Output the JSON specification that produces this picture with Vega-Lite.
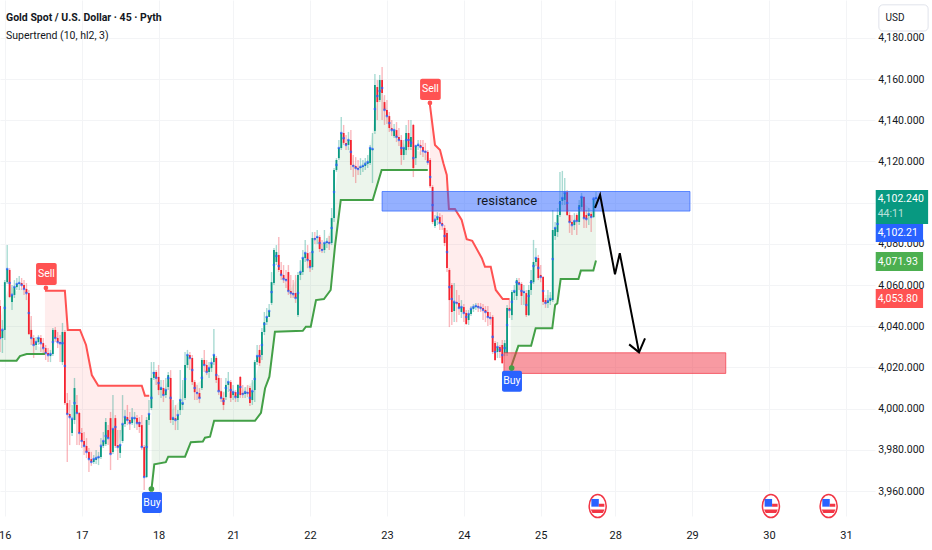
{"$schema":"https://vega.github.io/schema/vega-lite/v6.json","width":875,"height":516,"autosize":{"type":"none"},"padding":{"left":0,"top":0,"right":57,"bottom":34},"background":"#ffffff","config":{"view":{"stroke":null},"font":"Roboto","text":{"font":"Roboto"},"axis":{"labelFont":"Roboto"}},
"datasets":{
"bars":[
{"i":0,"o":4049.8,"h":4052.7,"l":4027.5,"c":4034.3},{"i":1,"o":4034.3,"h":4043,"l":4027,"c":4038.2},{"i":2,"o":4038.2,"h":4062.4,"l":4033.3,"c":4061.4,"d":4048.9},{"i":3,"o":4061.4,"h":4079.4,"l":4060.5,"c":4067.8},{"i":4,"o":4067.3,"h":4068.2,"l":4053.7,"c":4054.2,"d":4061},{"i":5,"o":4051.8,"h":4060,"l":4047.9,"c":4055.2},{"i":6,"o":4055.2,"h":4062.4,"l":4053.7,"c":4059},{"i":7,"o":4059,"h":4063.4,"l":4057.6,"c":4060.5},{"i":8,"o":4060.5,"h":4064.4,"l":4057.6,"c":4061},{"i":9,"o":4061,"h":4063.4,"l":4057.6,"c":4060},{"i":10,"o":4060,"h":4062.4,"l":4055.2,"c":4058.1},{"i":11,"o":4058.1,"h":4061,"l":4052.7,"c":4056.1},{"i":12,"o":4056.1,"h":4057.6,"l":4035.7,"c":4036.2,"d":4046.4},{"i":13,"o":4038.2,"h":4045,"l":4030.9,"c":4034.3},{"i":14,"o":4034.3,"h":4035.7,"l":4024.6,"c":4030.9},{"i":15,"o":4030.9,"h":4034.8,"l":4028.5,"c":4032.3},{"i":16,"o":4032.3,"h":4035.7,"l":4030.9,"c":4034.3},{"i":17,"o":4034.3,"h":4035.7,"l":4027.5,"c":4031.8},{"i":18,"o":4031.8,"h":4034.3,"l":4026,"c":4029.4},{"i":19,"o":4029.4,"h":4030.9,"l":4023.6,"c":4027},
{"i":20,"o":4027,"h":4029.4,"l":4022.6,"c":4026},{"i":21,"o":4025.5,"h":4028.5,"l":4022.6,"c":4026.5},{"i":22,"o":4026.5,"h":4039.2,"l":4025.5,"c":4038.2,"d":4032.3},{"i":23,"o":4038.2,"h":4039.6,"l":4032.3,"c":4034.3},{"i":24,"o":4034.3,"h":4037.2,"l":4029.4,"c":4032.3},{"i":25,"o":4032.3,"h":4035.7,"l":4022.6,"c":4031.8},{"i":26,"o":4022.6,"h":4041.6,"l":4021.2,"c":4037.2,"d":4031.8},{"i":27,"o":4037.2,"h":4038.2,"l":4001.8,"c":4002.7,"d":4020.7},{"i":28,"o":4002.7,"h":4007.6,"l":3974.1,"c":3997.4},{"i":29,"o":3997.4,"h":4004.2,"l":3982.3,"c":3995.9},{"i":30,"o":3988.2,"h":4001.8,"l":3986.7,"c":3995},{"i":31,"o":3994.5,"h":4014.9,"l":3992.5,"c":4010,"d":4002.7},{"i":32,"o":4001.8,"h":4006.6,"l":3982.3,"c":3997.9},{"i":33,"o":3997.9,"h":3998.4,"l":3982.3,"c":3988.2},{"i":34,"o":3988.2,"h":3990.6,"l":3980.9,"c":3984.3},{"i":35,"o":3984.3,"h":3988.7,"l":3977.5,"c":3981.9},{"i":36,"o":3981.9,"h":3985.7,"l":3976,"c":3979},{"i":37,"o":3979,"h":3980.9,"l":3969.2,"c":3975.5},{"i":38,"o":3975.5,"h":3979,"l":3972.2,"c":3974.1},{"i":39,"o":3974.1,"h":3977.5,"l":3973.1,"c":3975.5},
{"i":40,"o":3975.1,"h":3979.9,"l":3973.1,"c":3976},{"i":41,"o":3976,"h":3979,"l":3972.6,"c":3976.5},{"i":42,"o":3976.5,"h":3985.7,"l":3975.5,"c":3981.9},{"i":43,"o":3981.9,"h":3988.7,"l":3980.9,"c":3984.3},{"i":44,"o":3982.8,"h":3995.4,"l":3981.9,"c":3993.5,"d":3986.7},{"i":45,"o":3989.6,"h":3992,"l":3982.3,"c":3985.7},{"i":46,"o":3995.4,"h":3998.4,"l":3970.2,"c":3978},{"i":47,"o":3979,"h":4006.6,"l":3978,"c":3990.1},{"i":48,"o":3995.4,"h":3996.9,"l":3980.9,"c":3981.9,"d":3991.1},{"i":49,"o":3982.3,"h":3989.6,"l":3975.1,"c":3981.4},{"i":50,"o":3978.5,"h":3989.6,"l":3976,"c":3982.3},{"i":51,"o":3984.3,"h":4006.6,"l":3983.3,"c":3992.5},{"i":52,"o":3992.5,"h":3999.3,"l":3991.1,"c":3995.9},{"i":53,"o":3995.9,"h":4001.8,"l":3992,"c":3994.5},{"i":54,"o":3994.5,"h":3998.4,"l":3989.6,"c":3993},{"i":55,"o":3993,"h":4000.3,"l":3992,"c":3995.4},{"i":56,"o":3995,"h":3998.4,"l":3990.6,"c":3995.4},{"i":57,"o":3995.4,"h":3996.9,"l":3989.6,"c":3993},{"i":58,"o":3993.5,"h":3995.9,"l":3988.2,"c":3991.1,"d":3993},{"i":59,"o":3992,"h":3996.9,"l":3979.9,"c":3981.4},
{"i":60,"o":3981.4,"h":3982.3,"l":3960.5,"c":3966.8},{"i":61,"o":3966.8,"h":3995.9,"l":3966.3,"c":3994.5,"d":3981.4},{"i":62,"o":3994.5,"h":4004.2,"l":3992,"c":3997.4},{"i":63,"o":4000.3,"h":4022.6,"l":3999.3,"c":4014.9,"d":4005.2},{"i":64,"o":4014.9,"h":4022.6,"l":4013.9,"c":4017.8,"d":4017.3},{"i":65,"o":4017.8,"h":4018.7,"l":4011.5,"c":4014.9},{"i":66,"o":4015.4,"h":4021.2,"l":4006.6,"c":4009,"d":4012.4},{"i":67,"o":4009,"h":4013.9,"l":4005.2,"c":4010},{"i":68,"o":4010,"h":4013.9,"l":4003.2,"c":4006.6},{"i":69,"o":4006.6,"h":4014.9,"l":4005.2,"c":4009},{"i":70,"o":4010.5,"h":4017.8,"l":4009,"c":4016.3,"d":4014.9},{"i":71,"o":4014.9,"h":4018.7,"l":3993,"c":3994.5,"d":4005.2},{"i":72,"o":3994.5,"h":4004.2,"l":3992,"c":3995.4},{"i":73,"o":3995.4,"h":4001.8,"l":3989.6,"c":3994.5},{"i":74,"o":3994.5,"h":3999.3,"l":3989.6,"c":3996.9},{"i":75,"o":3999.3,"h":4018.7,"l":3996.9,"c":4004.2},{"i":76,"o":4001.8,"h":4013.9,"l":3999.3,"c":4002.7},{"i":77,"o":4005.2,"h":4027.5,"l":4004.2,"c":4021.2,"d":4014.4},{"i":78,"o":4021.2,"h":4028.5,"l":4019.7,"c":4026},{"i":79,"o":4026,"h":4027.5,"l":4018.7,"c":4024.6},
{"i":80,"o":4024.6,"h":4026,"l":4011.5,"c":4012.9,"d":4018.7},{"i":81,"o":4012.9,"h":4013.9,"l":4004.2,"c":4008,"d":4010},{"i":82,"o":4008,"h":4011.5,"l":4004.2,"c":4007.6},{"i":83,"o":4007.6,"h":4010,"l":4002.7,"c":4005.2},{"i":84,"o":4010,"h":4024.6,"l":4009,"c":4023.6,"d":4014.9},{"i":85,"o":4023.6,"h":4028.5,"l":4017.8,"c":4021.2},{"i":86,"o":4021.2,"h":4023.6,"l":4016.3,"c":4017.8},{"i":87,"o":4017.8,"h":4022.6,"l":4014.9,"c":4019.7},{"i":88,"o":4019.7,"h":4024.6,"l":4017.8,"c":4022.1},{"i":89,"o":4022.6,"h":4038.6,"l":4021.2,"c":4026},{"i":90,"o":4024.6,"h":4025.5,"l":4012.4,"c":4013.9,"d":4016.3},{"i":91,"o":4014.9,"h":4016.3,"l":4006.6,"c":4008.5},{"i":92,"o":4008.5,"h":4014.9,"l":4003.2,"c":4005.2},{"i":93,"o":4005.2,"h":4008,"l":3999.3,"c":4001.8,"d":4003.7},{"i":94,"o":4005.6,"h":4014.9,"l":4004.2,"c":4011.5,"d":4010},{"i":95,"o":4011.5,"h":4017.8,"l":4008,"c":4012.9},{"i":96,"o":4012.9,"h":4013.9,"l":4003.2,"c":4005.2,"d":4009},{"i":97,"o":4006.6,"h":4011.5,"l":4004.2,"c":4008},{"i":98,"o":4008,"h":4009,"l":4003.2,"c":4005.6},{"i":99,"o":4005.2,"h":4012,"l":4003.2,"c":4011.5,"d":4007.6},
{"i":100,"o":4015.4,"h":4015.8,"l":4005.2,"c":4006.6,"d":4010.5},{"i":101,"o":4007.6,"h":4011.5,"l":4005.2,"c":4007.1},{"i":102,"o":4007.1,"h":4010.5,"l":4005.2,"c":4008},{"i":103,"o":4008,"h":4011.5,"l":4005.6,"c":4007.6},{"i":104,"o":4010,"h":4011,"l":4001.3,"c":4002.7,"d":4005.2},{"i":105,"o":4004.2,"h":4013.9,"l":4001.8,"c":4008.5},{"i":106,"o":4009,"h":4023.6,"l":4003.2,"c":4022.6,"d":4014.4},{"i":107,"o":4022.6,"h":4030.9,"l":4021.2,"c":4025.5},{"i":108,"o":4028.5,"h":4030.9,"l":4020.7,"c":4022.1,"d":4025.5},{"i":109,"o":4026,"h":4039.2,"l":4023.6,"c":4037.2,"d":4030.9},{"i":110,"o":4037.2,"h":4046.9,"l":4035.7,"c":4042,"d":4041.1},{"i":111,"o":4042,"h":4048.9,"l":4040.6,"c":4044.5},{"i":112,"o":4044.5,"h":4050.8,"l":4045,"c":4047.4},{"i":113,"o":4051.3,"h":4066.3,"l":4050.3,"c":4061.4,"d":4056.6},{"i":114,"o":4061,"h":4078,"l":4060,"c":4077,"d":4069.7},{"i":115,"o":4071.2,"h":4079.4,"l":4069.7,"c":4076,"d":4074.1},{"i":116,"o":4074.6,"h":4083.3,"l":4066.3,"c":4067.3,"d":4069.2},{"i":117,"o":4067.3,"h":4071.2,"l":4062.4,"c":4064.9},{"i":118,"o":4064.9,"h":4069.7,"l":4061,"c":4062.9},{"i":119,"o":4062.9,"h":4067.3,"l":4058.6,"c":4062.4},
{"i":120,"o":4066.3,"h":4069.7,"l":4055.2,"c":4057.1},{"i":121,"o":4057.1,"h":4064.9,"l":4053.7,"c":4056.1},{"i":122,"o":4056.1,"h":4062.4,"l":4053.7,"c":4055.6},{"i":123,"o":4056.1,"h":4064.9,"l":4051.3,"c":4053.7},{"i":124,"o":4045.4,"h":4066.3,"l":4044.5,"c":4064.9,"d":4056.1},{"i":125,"o":4064.9,"h":4072.1,"l":4062.4,"c":4066.3},{"i":126,"o":4066.3,"h":4077,"l":4064.9,"c":4073.1},{"i":127,"o":4073.1,"h":4081.9,"l":4071.2,"c":4075.5},{"i":128,"o":4075.5,"h":4079.4,"l":4068.2,"c":4072.1},{"i":129,"o":4072.1,"h":4076,"l":4066.3,"c":4068.7},{"i":130,"o":4068.7,"h":4085.7,"l":4067.3,"c":4082.8,"d":4076},{"i":131,"o":4082.8,"h":4085.7,"l":4079.9,"c":4082.3},{"i":132,"o":4082.8,"h":4086.7,"l":4079.9,"c":4083.3},{"i":133,"o":4083.3,"h":4084.3,"l":4076,"c":4077.5,"d":4080.4},{"i":134,"o":4077.5,"h":4081.9,"l":4075.5,"c":4077},{"i":135,"o":4077,"h":4086.7,"l":4075.5,"c":4080.4},{"i":136,"o":4080.4,"h":4082.8,"l":4078,"c":4080.9},{"i":137,"o":4080.9,"h":4083.8,"l":4077,"c":4080.4},{"i":138,"o":4080.4,"h":4097.4,"l":4079.4,"c":4092.5,"d":4087.7},{"i":139,"o":4092.5,"h":4116.8,"l":4090.6,"c":4115.8,"d":4105.1},
{"i":140,"o":4115.8,"h":4121.6,"l":4114.9,"c":4120.7,"d":4118.3},{"i":141,"o":4121.6,"h":4130.4,"l":4120.7,"c":4126.5},{"i":142,"o":4126.5,"h":4141.6,"l":4125.5,"c":4133.8},{"i":143,"o":4133.8,"h":4137.7,"l":4128,"c":4129,"d":4131.3},{"i":144,"o":4129,"h":4132.8,"l":4125.5,"c":4128},{"i":145,"o":4128,"h":4134.3,"l":4125.5,"c":4130.4},{"i":146,"o":4130.4,"h":4135.2,"l":4115.8,"c":4118.3,"d":4124.6},{"i":147,"o":4118.3,"h":4123.1,"l":4112.4,"c":4117.8},{"i":148,"o":4117.8,"h":4122.1,"l":4109.5,"c":4116.8},{"i":149,"o":4116.8,"h":4120.7,"l":4113.4,"c":4116.3},{"i":150,"o":4116.8,"h":4121.6,"l":4113.4,"c":4117.3},{"i":151,"o":4117.3,"h":4120.7,"l":4114.9,"c":4117.8},{"i":152,"o":4117.8,"h":4121.6,"l":4115.8,"c":4118.8},{"i":153,"o":4118.8,"h":4123.1,"l":4116.8,"c":4119.7},{"i":154,"o":4119.2,"h":4128,"l":4118.3,"c":4126.5},{"i":155,"o":4125.5,"h":4133.8,"l":4109.5,"c":4126},{"i":156,"o":4134.8,"h":4162.4,"l":4133.3,"c":4157.1,"d":4145.4},{"i":157,"o":4156.1,"h":4159.5,"l":4140.1,"c":4148.8,"d":4151.7},{"i":158,"o":4149.8,"h":4162,"l":4148.8,"c":4159.5,"d":4154.2},{"i":159,"o":4159.5,"h":4165.8,"l":4140.1,"c":4153.2,"d":4155.6},
{"i":160,"o":4148.8,"h":4152.2,"l":4137.7,"c":4145},{"i":161,"o":4145,"h":4149.8,"l":4138.2,"c":4142},{"i":162,"o":4142,"h":4144,"l":4134.3,"c":4136.2,"d":4138.6},{"i":163,"o":4136.2,"h":4140.1,"l":4132.3,"c":4135.2},{"i":164,"o":4132.3,"h":4138.2,"l":4131.4,"c":4135.2},{"i":165,"o":4135.2,"h":4139.1,"l":4129.4,"c":4131.9},{"i":166,"o":4131.9,"h":4136.2,"l":4127.5,"c":4130.4},{"i":167,"o":4130.4,"h":4132.8,"l":4118.3,"c":4123.1,"d":4126.5},{"i":168,"o":4123.1,"h":4130.4,"l":4120.7,"c":4126.5},{"i":169,"o":4125.5,"h":4137.7,"l":4123.1,"c":4133.8,"d":4130.4},{"i":170,"o":4133.8,"h":4140.1,"l":4125.5,"c":4127,"d":4130.4},{"i":171,"o":4127,"h":4140.1,"l":4125.5,"c":4131.9,"d":4129},{"i":172,"o":4137.7,"h":4138.2,"l":4112.4,"c":4116.8,"d":4121.6},{"i":173,"o":4121.6,"h":4128,"l":4118.3,"c":4127.5},{"i":174,"o":4127.5,"h":4130.4,"l":4125.5,"c":4128},{"i":175,"o":4128,"h":4130.4,"l":4123.1,"c":4127},{"i":176,"o":4127,"h":4130.4,"l":4122.1,"c":4125},{"i":177,"o":4125,"h":4129,"l":4120.7,"c":4124.6},{"i":178,"o":4124.6,"h":4125.5,"l":4118.3,"c":4119.7},{"i":179,"o":4120.7,"h":4121.6,"l":4107.1,"c":4108,"d":4112.4},
{"i":180,"o":4107.6,"h":4108.5,"l":4089.6,"c":4090.6,"d":4098.8},{"i":181,"o":4088.6,"h":4094,"l":4087.7,"c":4091.6},{"i":182,"o":4091.6,"h":4095.4,"l":4089.1,"c":4093},{"i":183,"o":4093,"h":4094.9,"l":4086.7,"c":4090.1},{"i":184,"o":4090.1,"h":4094,"l":4086.7,"c":4089.1},{"i":185,"o":4087.7,"h":4089.1,"l":4078.9,"c":4080.4,"d":4083.8},{"i":186,"o":4085.3,"h":4086.7,"l":4066.3,"c":4068.3,"d":4076},{"i":187,"o":4067.3,"h":4068.2,"l":4039.6,"c":4052.7,"d":4059},{"i":188,"o":4060,"h":4061,"l":4040.6,"c":4046.9,"d":4053.2},{"i":189,"o":4047.4,"h":4061,"l":4042,"c":4051.8},{"i":190,"o":4051.8,"h":4057.6,"l":4042,"c":4051.3},{"i":191,"o":4051.3,"h":4055.2,"l":4045.4,"c":4048.9},{"i":192,"o":4046.9,"h":4052.7,"l":4044,"c":4049.3},{"i":193,"o":4049.3,"h":4050.8,"l":4042,"c":4046.4},{"i":194,"o":4046.4,"h":4047.9,"l":4040.6,"c":4041.1,"d":4044.5},{"i":195,"o":4043,"h":4047.9,"l":4040.6,"c":4045.9},{"i":196,"o":4045.9,"h":4049.8,"l":4045,"c":4048.4},{"i":197,"o":4048.4,"h":4050.8,"l":4046.9,"c":4049.3},{"i":198,"o":4049.3,"h":4051.3,"l":4047.9,"c":4049.8},{"i":199,"o":4049.8,"h":4051.3,"l":4046.9,"c":4049.3},
{"i":200,"o":4049.3,"h":4051.3,"l":4046.9,"c":4048.9},{"i":201,"o":4048.9,"h":4050.8,"l":4043,"c":4047.9},{"i":202,"o":4047.9,"h":4049.8,"l":4042,"c":4046.9},{"i":203,"o":4046.9,"h":4049.8,"l":4040.1,"c":4044.5},{"i":204,"o":4044.5,"h":4046.9,"l":4040.6,"c":4044},{"i":205,"o":4044.5,"h":4045.4,"l":4026.5,"c":4027.5,"d":4034.8},{"i":206,"o":4031.9,"h":4032.8,"l":4023.1,"c":4023.6,"d":4027.5},{"i":207,"o":4027.5,"h":4032.3,"l":4024.6,"c":4029.9},{"i":208,"o":4029.9,"h":4030.9,"l":4024.6,"c":4027.5,"d":4028.5},{"i":209,"o":4030.9,"h":4033.3,"l":4021.7,"c":4022.1,"d":4026},{"i":210,"o":4027,"h":4033.3,"l":4025.5,"c":4031.8,"d":4029.4},{"i":211,"o":4027,"h":4050.3,"l":4025.5,"c":4048.9,"d":4040.6},{"i":212,"o":4048.9,"h":4053.7,"l":4044,"c":4047.9},{"i":213,"o":4045.4,"h":4057.6,"l":4043,"c":4056.6,"d":4051.8},{"i":214,"o":4056.1,"h":4060,"l":4052.7,"c":4057.1},{"i":215,"o":4054.7,"h":4063.4,"l":4052.7,"c":4062.4,"d":4061.4},{"i":216,"o":4061.4,"h":4063.4,"l":4057.6,"c":4060.5},{"i":217,"o":4060.5,"h":4061.4,"l":4050.3,"c":4054.7,"d":4057.1},{"i":218,"o":4056.1,"h":4060,"l":4050.3,"c":4056.6},{"i":219,"o":4056.1,"h":4057.6,"l":4044.5,"c":4045.4,"d":4050.3},
{"i":220,"o":4045.4,"h":4060,"l":4045,"c":4057.6,"d":4054.7},{"i":221,"o":4057.6,"h":4067.3,"l":4055.2,"c":4062.4,"d":4061.4},{"i":222,"o":4061.4,"h":4081.9,"l":4060.5,"c":4071.2,"d":4069.2},{"i":223,"o":4071.2,"h":4078,"l":4069.2,"c":4073.1},{"i":224,"o":4073.1,"h":4074.6,"l":4062.4,"c":4063.4,"d":4068.3},{"i":225,"o":4064.9,"h":4069.7,"l":4061.4,"c":4063.9},{"i":226,"o":4063.9,"h":4064.4,"l":4050.3,"c":4051.8,"d":4057.1},{"i":227,"o":4052.7,"h":4053.7,"l":4048.9,"c":4051.3},{"i":228,"o":4051.3,"h":4057.6,"l":4048.9,"c":4052.2},{"i":229,"o":4052.2,"h":4056.6,"l":4050.3,"c":4053.2},{"i":230,"o":4052.7,"h":4096.4,"l":4051.8,"c":4086.7,"d":4072.6},{"i":231,"o":4083.8,"h":4090.6,"l":4081.9,"c":4087.7},{"i":232,"o":4085.7,"h":4097.4,"l":4083.3,"c":4094,"d":4089.6},{"i":233,"o":4094,"h":4114.9,"l":4093,"c":4100.8,"d":4099.8},{"i":234,"o":4100.8,"h":4115.4,"l":4098.8,"c":4102.2},{"i":235,"o":4101.3,"h":4112,"l":4098.8,"c":4104.7},{"i":236,"o":4105.1,"h":4106.1,"l":4093.5,"c":4094,"d":4099.8},{"i":237,"o":4094,"h":4095.4,"l":4085.3,"c":4090.6},{"i":238,"o":4090.6,"h":4094,"l":4084.3,"c":4089.1},{"i":239,"o":4089.1,"h":4094.9,"l":4086.7,"c":4091.1},
{"i":240,"o":4094,"h":4094.9,"l":4084.3,"c":4091.1},{"i":241,"o":4090.6,"h":4101.3,"l":4089.1,"c":4098.8,"d":4097.4},{"i":242,"o":4097.9,"h":4104.7,"l":4096.4,"c":4102.7},{"i":243,"o":4102.7,"h":4103.2,"l":4087.7,"c":4092.5},{"i":244,"o":4094,"h":4096.4,"l":4087.7,"c":4092},{"i":245,"o":4093.5,"h":4097.4,"l":4089.1,"c":4094.5},{"i":246,"o":4094.5,"h":4095.4,"l":4085.7,"c":4093},{"i":247,"o":4093,"h":4102.7,"l":4092.5,"c":4101.8},{"i":248,"o":4101.8,"h":4105.2,"l":4098.8,"c":4102.24}],
"st":[
{"s":"g1","k":"g","i":0,"v":4023.3},{"s":"g1","k":"g","i":6.9,"v":4023.3},{"s":"g1","k":"g","i":8.3,"v":4025.5},{"s":"g1","k":"g","i":11.1,"v":4026.5},{"s":"g1","k":"g","i":18.7,"v":4026.5},
{"s":"r1","k":"r","i":18.7,"v":4057.2},{"s":"r1","k":"r","i":27,"v":4057.2},{"s":"r1","k":"r","i":28.2,"v":4038.2},{"s":"r1","k":"r","i":33.3,"v":4038.2},{"s":"r1","k":"r","i":35.8,"v":4030.9},{"s":"r1","k":"r","i":38.2,"v":4016.3},{"s":"r1","k":"r","i":40.9,"v":4011.1},{"s":"r1","k":"r","i":59,"v":4011.1},{"s":"r1","k":"r","i":60.3,"v":4006.3},{"s":"r1","k":"r","i":62.1,"v":4006.3},
{"s":"g2","k":"g","i":63.1,"v":3961.5},{"s":"g2","k":"g","i":64.2,"v":3973},{"s":"g2","k":"g","i":69,"v":3974},{"s":"g2","k":"g","i":70,"v":3976.7},{"s":"g2","k":"g","i":77,"v":3976.7},{"s":"g2","k":"g","i":79.4,"v":3983.7},{"s":"g2","k":"g","i":84.4,"v":3984},{"s":"g2","k":"g","i":85.3,"v":3985.9},{"s":"g2","k":"g","i":87.4,"v":3986.4},{"s":"g2","k":"g","i":89.1,"v":3994.1},{"s":"g2","k":"g","i":106.1,"v":3994.1},{"s":"g2","k":"g","i":108.6,"v":3998},{"s":"g2","k":"g","i":110.3,"v":4009.9},{"s":"g2","k":"g","i":112.1,"v":4015.5},{"s":"g2","k":"g","i":114.4,"v":4037.3},{"s":"g2","k":"g","i":126,"v":4037.8},{"s":"g2","k":"g","i":127.3,"v":4039.8},{"s":"g2","k":"g","i":129.3,"v":4039.8},{"s":"g2","k":"g","i":131.5,"v":4052.7},{"s":"g2","k":"g","i":134.8,"v":4053.2},{"s":"g2","k":"g","i":137.6,"v":4057.6},{"s":"g2","k":"g","i":139.4,"v":4078.9},{"s":"g2","k":"g","i":141.8,"v":4101.3},{"s":"g2","k":"g","i":155.1,"v":4101.3},{"s":"g2","k":"g","i":158.8,"v":4115.8},{"s":"g2","k":"g","i":178,"v":4115.8},
{"s":"r2","k":"r","i":178.9,"v":4147.4},{"s":"r2","k":"r","i":181,"v":4128},{"s":"r2","k":"r","i":183.1,"v":4125.5},{"s":"r2","k":"r","i":184.5,"v":4119.1},{"s":"r2","k":"r","i":185.9,"v":4113.4},{"s":"r2","k":"r","i":186.8,"v":4096.9},{"s":"r2","k":"r","i":189.3,"v":4096.9},{"s":"r2","k":"r","i":192.1,"v":4091.6},{"s":"r2","k":"r","i":194.2,"v":4082.2},{"s":"r2","k":"r","i":196.5,"v":4081.5},{"s":"r2","k":"r","i":200.5,"v":4073},{"s":"r2","k":"r","i":201.8,"v":4068.9},{"s":"r2","k":"r","i":204.2,"v":4068.9},{"s":"r2","k":"r","i":206.3,"v":4057.6},{"s":"r2","k":"r","i":209.2,"v":4053.2},{"s":"r2","k":"r","i":211.9,"v":4053.2},
{"s":"g3","k":"g","i":212.5,"v":4019.7},{"s":"g3","k":"g","i":215.7,"v":4030.5},{"s":"g3","k":"g","i":221,"v":4030.5},{"s":"g3","k":"g","i":222.9,"v":4039},{"s":"g3","k":"g","i":229.8,"v":4039},{"s":"g3","k":"g","i":231,"v":4050.3},{"s":"g3","k":"g","i":231.9,"v":4051.1},{"s":"g3","k":"g","i":233.3,"v":4062.9},{"s":"g3","k":"g","i":240.7,"v":4062.9},{"s":"g3","k":"g","i":241.7,"v":4067},{"s":"g3","k":"g","i":246.9,"v":4067},{"s":"g3","k":"g","i":248,"v":4071.9}],
"fills":[
{"s":"g1","k":"g","i":0,"v":4023.3,"m":4043},{"s":"g1","k":"g","i":2,"v":4023.3,"m":4052.7},{"s":"g1","k":"g","i":4,"v":4023.3,"m":4060},{"s":"g1","k":"g","i":6.9,"v":4023.3,"m":4057},{"s":"g1","k":"g","i":8.3,"v":4025.5,"m":4058.5},{"s":"g1","k":"g","i":11.1,"v":4026.5,"m":4056.6},{"s":"g1","k":"g","i":12.5,"v":4026.5,"m":4045.4},{"s":"g1","k":"g","i":13.5,"v":4026.5,"m":4035.7},{"s":"g1","k":"g","i":15,"v":4026.5,"m":4030.9},{"s":"g1","k":"g","i":18.7,"v":4026.5,"m":4028.5},
{"s":"r1","k":"r","i":18.7,"v":4057.2,"m":4026},{"s":"r1","k":"r","i":21.6,"v":4057.2,"m":4026},{"s":"r1","k":"r","i":23,"v":4057.2,"m":4033.3},{"s":"r1","k":"r","i":25.8,"v":4057.2,"m":4032.3},{"s":"r1","k":"r","i":27,"v":4057.2,"m":4018.7},{"s":"r1","k":"r","i":28.2,"v":4038.2,"m":3998.4},{"s":"r1","k":"r","i":31,"v":4038.2,"m":4004.2},{"s":"r1","k":"r","i":33.3,"v":4038.2,"m":3989.6},{"s":"r1","k":"r","i":35.8,"v":4030.9,"m":3980},{"s":"r1","k":"r","i":37.5,"v":4019,"m":3976},{"s":"r1","k":"r","i":38.2,"v":4016.3,"m":3975.5},{"s":"r1","k":"r","i":40.9,"v":4011.1,"m":3975},{"s":"r1","k":"r","i":43.7,"v":4011.1,"m":3984.8},{"s":"r1","k":"r","i":47,"v":4011.1,"m":3988.7},{"s":"r1","k":"r","i":49,"v":4011.1,"m":3982.3},{"s":"r1","k":"r","i":52,"v":4011.1,"m":3994.5},{"s":"r1","k":"r","i":59,"v":4011.1,"m":3993},{"s":"r1","k":"r","i":60.3,"v":4006.3,"m":3974},{"s":"r1","k":"r","i":62.1,"v":4006.3,"m":3982.3},
{"s":"g2","k":"g","i":63.1,"v":3961.5,"m":4004.2},{"s":"g2","k":"g","i":64.2,"v":3973,"m":4016.3},{"s":"g2","k":"g","i":67.8,"v":3973.6,"m":4008},{"s":"g2","k":"g","i":69,"v":3974,"m":4011.5},{"s":"g2","k":"g","i":70,"v":3976.7,"m":4013.9},{"s":"g2","k":"g","i":71.6,"v":3976.7,"m":3999.3},{"s":"g2","k":"g","i":75,"v":3976.7,"m":4004.2},{"s":"g2","k":"g","i":77,"v":3976.7,"m":4018.7},{"s":"g2","k":"g","i":78,"v":3979.5,"m":4023.6},{"s":"g2","k":"g","i":79.4,"v":3983.7,"m":4018.7},{"s":"g2","k":"g","i":81,"v":3983.7,"m":4011.5},{"s":"g2","k":"g","i":84.1,"v":3984,"m":4013.9},{"s":"g2","k":"g","i":85.3,"v":3985.9,"m":4018.7},{"s":"g2","k":"g","i":87.4,"v":3986.4,"m":4019.7},{"s":"g2","k":"g","i":89.1,"v":3994.1,"m":4023.6},{"s":"g2","k":"g","i":91.5,"v":3994.1,"m":4009},{"s":"g2","k":"g","i":98.2,"v":3994.1,"m":4006.6},{"s":"g2","k":"g","i":106.1,"v":3994.1,"m":4013.9},{"s":"g2","k":"g","i":108.6,"v":3998,"m":4026},{"s":"g2","k":"g","i":110.3,"v":4009.9,"m":4038.2},{"s":"g2","k":"g","i":112.1,"v":4015.5,"m":4045.4},{"s":"g2","k":"g","i":114.4,"v":4037.3,"m":4069.7},{"s":"g2","k":"g","i":120.7,"v":4037.5,"m":4057.6},{"s":"g2","k":"g","i":124.8,"v":4037.7,"m":4066.3},{"s":"g2","k":"g","i":126,"v":4037.8,"m":4072.1},{"s":"g2","k":"g","i":127.3,"v":4039.8,"m":4074.6},{"s":"g2","k":"g","i":129.3,"v":4039.8,"m":4069.7},{"s":"g2","k":"g","i":131.5,"v":4052.7,"m":4082.8},{"s":"g2","k":"g","i":134.8,"v":4053.2,"m":4079.4},{"s":"g2","k":"g","i":137.6,"v":4057.6,"m":4086.7},{"s":"g2","k":"g","i":139.4,"v":4078.9,"m":4103.7},{"s":"g2","k":"g","i":141.8,"v":4101.3,"m":4130.4},{"s":"g2","k":"g","i":145.6,"v":4101.3,"m":4126.5},{"s":"g2","k":"g","i":148,"v":4101.3,"m":4116.8},{"s":"g2","k":"g","i":153,"v":4101.3,"m":4120.7},{"s":"g2","k":"g","i":155.1,"v":4101.3,"m":4135.2},{"s":"g2","k":"g","i":156,"v":4105,"m":4145},{"s":"g2","k":"g","i":158.8,"v":4115.8,"m":4154.7},{"s":"g2","k":"g","i":163.1,"v":4115.8,"m":4135.2},{"s":"g2","k":"g","i":168.5,"v":4115.8,"m":4128},{"s":"g2","k":"g","i":172.7,"v":4115.8,"m":4125.5},{"s":"g2","k":"g","i":178,"v":4115.8,"m":4123.1},
{"s":"r2","k":"r","i":178.9,"v":4147.4,"m":4113.4},{"s":"r2","k":"r","i":180,"v":4137,"m":4098.8},{"s":"r2","k":"r","i":181,"v":4128,"m":4094},{"s":"r2","k":"r","i":183.1,"v":4125.5,"m":4091.6},{"s":"r2","k":"r","i":185.2,"v":4116,"m":4083.8},{"s":"r2","k":"r","i":186.8,"v":4096.9,"m":4060},{"s":"r2","k":"r","i":189.3,"v":4096.9,"m":4051.8},{"s":"r2","k":"r","i":192.1,"v":4091.6,"m":4047.9},{"s":"r2","k":"r","i":194.2,"v":4082.2,"m":4044.5},{"s":"r2","k":"r","i":196.5,"v":4081.5,"m":4048.9},{"s":"r2","k":"r","i":200.5,"v":4073,"m":4048.9},{"s":"r2","k":"r","i":201.8,"v":4068.9,"m":4046.9},{"s":"r2","k":"r","i":204.2,"v":4068.9,"m":4044.5},{"s":"r2","k":"r","i":206.3,"v":4057.6,"m":4028.5},{"s":"r2","k":"r","i":209.2,"v":4053.2,"m":4028.5},{"s":"r2","k":"r","i":210.5,"v":4053.2,"m":4030.9},{"s":"r2","k":"r","i":211.9,"v":4053.2,"m":4047.9},
{"s":"g3","k":"g","i":212.5,"v":4019.7,"m":4050.3},{"s":"g3","k":"g","i":215.7,"v":4030.5,"m":4060},{"s":"g3","k":"g","i":219.3,"v":4030.5,"m":4052.7},{"s":"g3","k":"g","i":221,"v":4030.5,"m":4060},{"s":"g3","k":"g","i":222.9,"v":4039,"m":4073.1},{"s":"g3","k":"g","i":226.5,"v":4039,"m":4055.2},{"s":"g3","k":"g","i":229.8,"v":4039,"m":4055.2},{"s":"g3","k":"g","i":231,"v":4050.3,"m":4086.7},{"s":"g3","k":"g","i":231.9,"v":4051.1,"m":4089.1},{"s":"g3","k":"g","i":233.3,"v":4062.9,"m":4098.8},{"s":"g3","k":"g","i":235,"v":4062.9,"m":4103.7},{"s":"g3","k":"g","i":238,"v":4062.9,"m":4090.6},{"s":"g3","k":"g","i":240.7,"v":4062.9,"m":4094},{"s":"g3","k":"g","i":241.7,"v":4067,"m":4101.3},{"s":"g3","k":"g","i":246.9,"v":4067,"m":4095.4},{"s":"g3","k":"g","i":248,"v":4071.9,"m":4101.8}],
"flags":[{"i":248.7,"p":3952.7},{"i":320.8,"p":3952.7},{"i":344.8,"p":3952.7}]
},
"encoding":{"x":{"field":"i","type":"quantitative","title":null,"scale":{"domain":[0,364.1],"nice":false,"zero":false},"axis":{"values":[2,34,66,97,129,161,193,225,256,288,320,352],"labelExpr":"['16','17','18','21','22','23','24','25','28','29','30','31'][indexof([2,34,66,97,129,161,193,225,256,288,320,352],datum.value)]","title":null,"grid":true,"gridColor":"#f3f4f6","gridWidth":1,"domain":false,"ticks":false,"labelFontSize":11,"labelColor":"#131722","labelPadding":13,"labelOverlap":false,"labelFlush":false}}},
"layer":[
{"data":{"name":"fills"},"mark":{"type":"area","opacity":0.1,"interpolate":"linear"},"encoding":{"y":{"field":"v","type":"quantitative","title":null,"scale":{"domain":[3947.89,4198.35],"nice":false,"zero":false},"axis":{"orient":"right","values":[3960,3980,4000,4020,4040,4060,4080,4100,4120,4140,4160,4180],"format":",.3f","title":null,"grid":true,"gridColor":"#f3f4f6","gridWidth":1,"domain":false,"ticks":false,"labelAlign":"right","labelPadding":49,"labelFontSize":10.5,"labelColor":"#131722","labelOverlap":false,"labelFlush":false}},"y2":{"field":"m"},"detail":{"field":"s"},"color":{"field":"k","type":"nominal","legend":null,"scale":{"domain":["g","r"],"range":["#43a047","#ff5252"]}}}},
{"data":{"values":[{"p":4102.24}]},"mark":{"type":"rule","stroke":"#089981","strokeDash":[1,2],"strokeWidth":1,"opacity":0.6},"encoding":{"x":{"datum":0},"x2":{"datum":364.1},"y":{"field":"p","type":"quantitative"}}},
{"data":{"name":"bars"},"mark":{"type":"rule","strokeWidth":1.4,"opacity":0.35},"encoding":{"y":{"field":"l","type":"quantitative"},"y2":{"field":"h"},"stroke":{"condition":{"test":"datum.c>=datum.o","value":"#089981"},"value":"#f23645"}}},
{"data":{"name":"bars"},"mark":{"type":"rule","strokeWidth":1.8},"encoding":{"y":{"field":"o","type":"quantitative"},"y2":{"field":"c"},"stroke":{"condition":{"test":"datum.c>=datum.o","value":"#089981"},"value":"#f5222f"}}},
{"data":{"name":"bars"},"transform":[{"filter":"!isValid(datum.d)"}],"mark":{"type":"circle","size":7,"color":"#2962ff","opacity":0.75},"encoding":{"y":{"field":"c","type":"quantitative"}}},
{"data":{"name":"bars"},"transform":[{"filter":"isValid(datum.d)"}],"mark":{"type":"circle","size":7,"color":"#2962ff","opacity":0.75},"encoding":{"y":{"field":"d","type":"quantitative"}}},
{"data":{"name":"st"},"mark":{"type":"line","strokeWidth":2},"encoding":{"y":{"field":"v","type":"quantitative"},"detail":{"field":"s"},"color":{"field":"k","type":"nominal","legend":null}}},
{"data":{"values":[{"i":159,"i2":287.1,"p":4105.4,"p2":4095.9}]},"mark":{"type":"rect","fill":"#2962ff","fillOpacity":0.5,"stroke":"#2962ff","strokeOpacity":0.7,"strokeWidth":1},"encoding":{"x2":{"field":"i2"},"y":{"field":"p","type":"quantitative"},"y2":{"field":"p2"}}},
{"data":{"values":[{"i":209.7,"i2":302,"p":4027.1,"p2":4017.1}]},"mark":{"type":"rect","fill":"#f23645","fillOpacity":0.5,"stroke":"#f23645","strokeOpacity":0.7,"strokeWidth":1},"encoding":{"x2":{"field":"i2"},"y":{"field":"p","type":"quantitative"},"y2":{"field":"p2"}}},
{"data":{"values":[{"i":211,"p":4100.8,"t":"resistance"}]},"mark":{"type":"text","fontSize":13,"color":"#131722","align":"center","baseline":"middle"},"encoding":{"text":{"field":"t"},"y":{"field":"p","type":"quantitative"}}},
{"data":{"values":[{"n":1,"s":"a","i":247.6,"p":4097.5},{"n":2,"s":"a","i":249.7,"p":4103.8},{"n":3,"s":"a","i":255.9,"p":4065.2},{"n":4,"s":"a","i":257.9,"p":4075.4},{"n":5,"s":"a","i":265.9,"p":4027.3},{"n":1,"s":"b","i":261.8,"p":4031.2},{"n":2,"s":"b","i":265.9,"p":4027.3},{"n":3,"s":"b","i":268.4,"p":4034.1}]},"mark":{"type":"line","stroke":"#000000","strokeWidth":2},"encoding":{"y":{"field":"p","type":"quantitative"},"detail":{"field":"s"},"order":{"field":"n"}}},
{"data":{"values":[{"i":63,"p":3961},{"i":212.9,"p":4019.7}]},"mark":{"type":"circle","size":32,"color":"#43a047","opacity":1},"encoding":{"y":{"field":"p","type":"quantitative"}}},
{"data":{"values":[{"i":19.1,"p":4058.6},{"i":178.9,"p":4148.4}]},"mark":{"type":"circle","size":22,"color":"#ff5252","opacity":1},"encoding":{"y":{"field":"p","type":"quantitative"}}},
{"data":{"values":[{"i":59.1,"i2":67.4,"p":3959.5,"p2":3949.3},{"i":208.9,"i2":217.2,"p":4018.4,"p2":4008.2}]},"mark":{"type":"rect","fill":"#2962ff","cornerRadius":2},"encoding":{"x2":{"field":"i2"},"y":{"field":"p","type":"quantitative"},"y2":{"field":"p2"}}},
{"data":{"values":[{"i":15,"i2":23.6,"p":4070.7,"p2":4060},{"i":174.8,"i2":183.4,"p":4160.1,"p2":4149.8}]},"mark":{"type":"rect","fill":"#ff5252","cornerRadius":2},"encoding":{"x2":{"field":"i2"},"y":{"field":"p","type":"quantitative"},"y2":{"field":"p2"}}},
{"data":{"values":[{"i":63.25,"p":3954.4,"t":"Buy"},{"i":213,"p":4013.3,"t":"Buy"},{"i":19.3,"p":4065.4,"t":"Sell"},{"i":179.1,"p":4155,"t":"Sell"}]},"mark":{"type":"text","fontSize":10.5,"color":"#ffffff","align":"center","baseline":"middle"},"encoding":{"text":{"field":"t"},"y":{"field":"p","type":"quantitative"}}},
{"data":{"name":"flags"},"mark":{"type":"point","shape":"M-0.74,0 A0.74,1 0 1,0 0.74,0 A0.74,1 0 1,0 -0.74,0 Z","filled":true,"fill":"#ffffff","stroke":"#f23645","strokeWidth":1.5,"size":529,"opacity":1},"encoding":{"y":{"field":"p","type":"quantitative"}}},
{"data":{"name":"flags"},"mark":{"type":"point","shape":"M-0.55,-0.62 L0.1,-0.62 L0.1,0.05 L-0.55,0.05 Z","filled":true,"fill":"#2962ff","size":529,"opacity":1},"encoding":{"y":{"field":"p","type":"quantitative"}}},
{"data":{"name":"flags"},"mark":{"type":"point","shape":"M0.1,-0.2 L0.58,-0.2 L0.58,0.05 L0.1,0.05 Z M-0.6,0.3 L0.6,0.3 L0.45,0.6 L-0.45,0.6 Z","filled":true,"fill":"#f23645","size":529,"opacity":1},"encoding":{"y":{"field":"p","type":"quantitative"}}},
{"data":{"values":[{"i":2.5,"p":4189.6,"t":"Gold Spot / U.S. Dollar · 45 · Pyth"}]},"mark":{"type":"text","fontSize":10.5,"fontWeight":"bold","color":"#131722","align":"left","baseline":"middle"},"encoding":{"text":{"field":"t"},"y":{"field":"p","type":"quantitative"}}},
{"data":{"values":[{"i":2.5,"p":4180.9,"t":"Supertrend (10, hl2, 3)"}]},"mark":{"type":"text","fontSize":10.5,"color":"#131722","align":"left","baseline":"middle"},"encoding":{"text":{"field":"t"},"y":{"field":"p","type":"quantitative"}}},
{"data":{"values":[{"i":365.7,"i2":386.2,"p":4196,"p2":4183.3}]},"mark":{"type":"rect","fill":"#ffffff","stroke":"#e0e3eb","strokeWidth":1,"cornerRadius":4},"encoding":{"x2":{"field":"i2"},"y":{"field":"p","type":"quantitative"},"y2":{"field":"p2"}}},
{"data":{"values":[{"i":368.5,"p":4189.6,"t":"USD"}]},"mark":{"type":"text","fontSize":10,"color":"#131722","align":"left","baseline":"middle"},"encoding":{"text":{"field":"t"},"y":{"field":"p","type":"quantitative"}}},
{"data":{"values":[{"i":364.4,"i2":386.2,"p":4106.1,"p2":4089.6}]},"mark":{"type":"rect","fill":"#089981"},"encoding":{"x2":{"field":"i2"},"y":{"field":"p","type":"quantitative"},"y2":{"field":"p2"}}},
{"data":{"values":[{"i":364.4,"i2":384.1,"p":4089.6,"p2":4080.9}]},"mark":{"type":"rect","fill":"#2962ff"},"encoding":{"x2":{"field":"i2"},"y":{"field":"p","type":"quantitative"},"y2":{"field":"p2"}}},
{"data":{"values":[{"i":364.4,"i2":384.1,"p":4076,"p2":4066.8}]},"mark":{"type":"rect","fill":"#4caf50"},"encoding":{"x2":{"field":"i2"},"y":{"field":"p","type":"quantitative"},"y2":{"field":"p2"}}},
{"data":{"values":[{"i":364.4,"i2":384.1,"p":4058.1,"p2":4048.9}]},"mark":{"type":"rect","fill":"#ff5252"},"encoding":{"x2":{"field":"i2"},"y":{"field":"p","type":"quantitative"},"y2":{"field":"p2"}}},
{"data":{"values":[{"i":365.2,"p":4101.7,"t":"4,102.240"},{"i":365.2,"p":4085.2,"t":"4,102.21"},{"i":365.2,"p":4071.4,"t":"4,071.93"},{"i":365.2,"p":4053.4,"t":"4,053.80"}]},"mark":{"type":"text","fontSize":10.5,"color":"#ffffff","align":"left","baseline":"middle"},"encoding":{"text":{"field":"t"},"y":{"field":"p","type":"quantitative"}}},
{"data":{"values":[{"i":365.2,"p":4094.5,"t":"44:11"}]},"mark":{"type":"text","fontSize":10.5,"color":"#ffffff","opacity":0.7,"align":"left","baseline":"middle"},"encoding":{"text":{"field":"t"},"y":{"field":"p","type":"quantitative"}}}
]}
